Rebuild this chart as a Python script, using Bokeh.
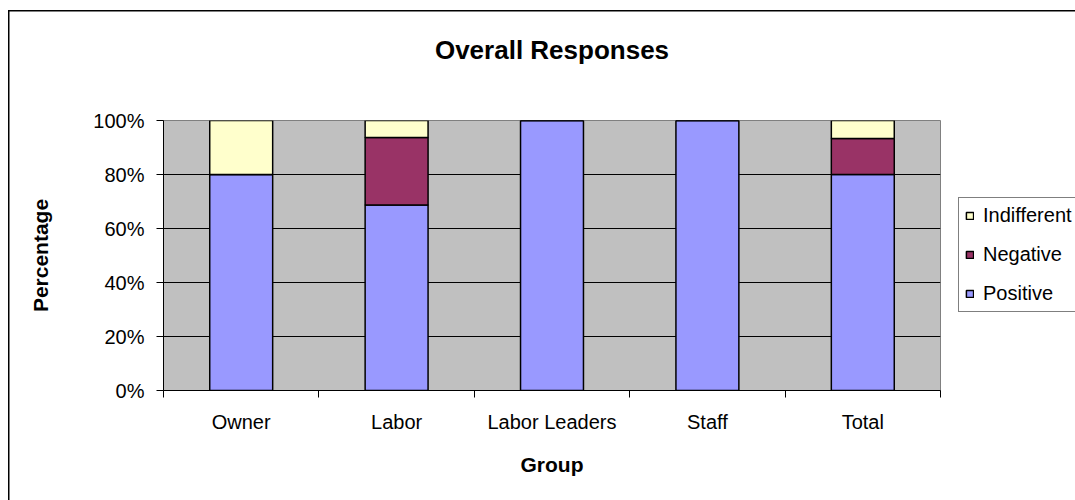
from bokeh.plotting import figure
from bokeh.models import (Range1d, FixedTicker, NumeralTickFormatter, Legend,
                          LegendItem, ColumnDataSource, LinearAxis)
from bokeh.embed import file_html
from bokeh.resources import INLINE

# Share of responses per group (fractions of 1)
groups = ["Owner", "Labor", "Labor Leaders", "Staff", "Total"]
positive = [0.80, 0.6875, 1.0, 1.0, 0.80]
negative = [0.0, 0.25, 0.0, 0.0, 0.133]
indifferent = [0.20, 0.0625, 0.0, 0.0, 0.067]
y_ticks = [0.0, 0.2, 0.4, 0.6, 0.8, 1.0]

series = ["Positive", "Negative", "Indifferent"]
colors = ["#9999FF", "#993366", "#FFFFCC"]

FONT = "Liberation Sans"

x_centers = [i + 0.5 for i in range(len(groups))]
boundaries = list(range(len(groups) + 1))
source = ColumnDataSource(dict(x=x_centers, Positive=positive,
                               Negative=negative, Indifferent=indifferent))

# Chart-area frame line drawn on the host element behind a transparent canvas
frame_styles = {
    "background-color": "white",
    "background-image": "linear-gradient(black, black), linear-gradient(black, black)",
    "background-size": "1.5px 500px, 1075px 1.5px",
    "background-position": "8px 10px, 8px 10px",
    "background-repeat": "no-repeat",
}

p = figure(frame_width=777, frame_height=270,
           x_range=Range1d(0, len(groups)), y_range=Range1d(0, 1),
           output_backend="svg", toolbar_location=None,
           min_border_left=163, min_border_right=135,
           min_border_top=120, min_border_bottom=110,
           background_fill_color="#C0C0C0", border_fill_alpha=0,
           outline_line_color="#808080", title=None,
           styles=frame_styles)

renderers = p.vbar_stack(series, x="x", width=0.405, source=source,
                         fill_color=colors, line_color="black", line_width=1.5)

# Category axis: labels centred on bars, ticks on group boundaries
xa = p.below[0]
xa.ticker = FixedTicker(ticks=x_centers, minor_ticks=boundaries)
xa.major_label_overrides = {x: g for x, g in zip(x_centers, groups)}
xa.major_tick_out = 0
xa.major_tick_in = 0
xa.minor_tick_out = 7
xa.minor_tick_in = 0
xa.minor_tick_line_color = "black"
xa.axis_line_color = "black"
xa.major_label_standoff = 13
xa.major_label_text_font = FONT
xa.major_label_text_font_size = "20px"
xa.major_label_text_color = "black"
xa.axis_label = "Group"
xa.axis_label_text_font = FONT
xa.axis_label_text_font_size = "21px"
xa.axis_label_text_font_style = "bold"
xa.axis_label_text_color = "black"
xa.axis_label_standoff = 17

ya = p.left[0]
ya.ticker = FixedTicker(ticks=y_ticks, minor_ticks=[])
ya.formatter = NumeralTickFormatter(format="0%")
ya.major_tick_out = 7
ya.major_tick_in = 0
ya.major_tick_line_color = "black"
ya.axis_line_color = "black"
ya.major_label_standoff = 12
ya.major_label_text_font = FONT
ya.major_label_text_font_size = "20px"
ya.major_label_text_color = "black"
ya.axis_label = "Percentage"
ya.axis_label_text_font = FONT
ya.axis_label_text_font_size = "21px"
ya.axis_label_text_font_style = "bold"
ya.axis_label_text_color = "black"
ya.axis_label_standoff = 38

# Chart title as the label of a bare axis above the frame
title_axis = LinearAxis(ticker=FixedTicker(ticks=[]), axis_label="Overall Responses")
title_axis.axis_line_color = None
title_axis.major_tick_out = 0
title_axis.major_tick_in = 0
title_axis.minor_tick_out = 0
title_axis.minor_tick_in = 0
title_axis.major_label_standoff = 0
title_axis.axis_label_text_font = FONT
title_axis.axis_label_text_font_size = "26px"
title_axis.axis_label_text_font_style = "bold"
title_axis.axis_label_text_color = "black"
title_axis.axis_label_standoff = 56
p.add_layout(title_axis, "above")

p.xgrid.visible = False
p.ygrid.ticker = FixedTicker(ticks=y_ticks)
p.ygrid.grid_line_color = "black"
p.ygrid.grid_line_width = 1

legend = Legend(items=[LegendItem(label=name, renderers=[r])
                       for name, r in reversed(list(zip(series, renderers)))],
                location=(18, 78))
legend.label_text_font = FONT
legend.label_text_font_size = "20px"
legend.label_text_color = "black"
legend.glyph_width = 9
legend.glyph_height = 9
legend.label_standoff = 9
legend.label_height = 20
legend.spacing = 16
legend.padding = 6
legend.margin = 0
legend.border_line_color = "black"
legend.border_line_width = 1
legend.background_fill_color = "white"
legend.background_fill_alpha = 1
p.add_layout(legend, "right")

open("out.html", "w").write(file_html(p, INLINE))
